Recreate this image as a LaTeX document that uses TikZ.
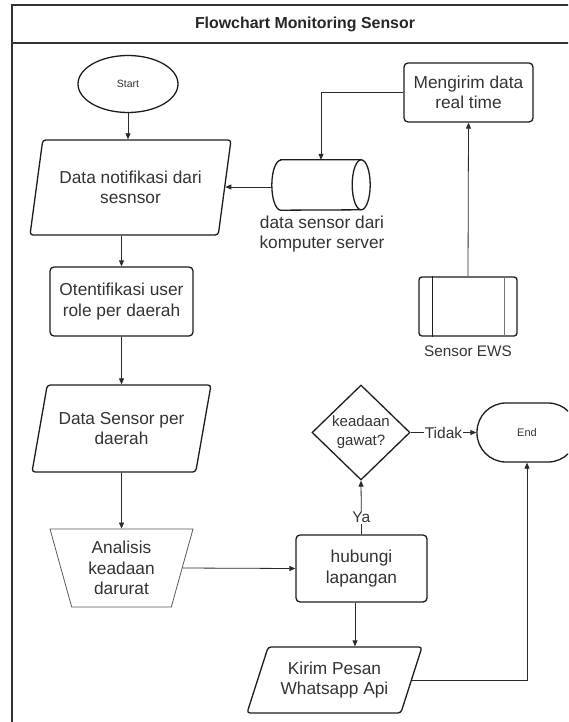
\documentclass[tikz,border=0pt]{standalone}
\usepackage{fontspec}
\setmainfont{Liberation Sans}
\usetikzlibrary{shapes.geometric,arrows.meta,calc}

\definecolor{ink}{HTML}{333333}
\definecolor{edge}{HTML}{1C1C1C}
\definecolor{wire}{HTML}{2A2A2A}

\begin{document}
\begin{tikzpicture}[x=1pt,y=-1pt,
  txt/.style={font=\fontsize{17.3}{20.5}\selectfont, text=ink, align=center},
  base/.style={txt, draw=edge, line width=1.3pt, inner sep=0pt},
  boxnode/.style={base, rectangle, rounded corners=4pt},
  terminal/.style={base, ellipse, font=\fontsize{10.5}{12}\selectfont},
  stadium/.style={base, rectangle, rounded corners=29pt, font=\fontsize{11}{13}\selectfont},
  iodata/.style={base, trapezium, trapezium stretches body=true, rounded corners=3pt},
  manualop/.style={txt, draw=black!65, line width=0.8pt, inner sep=0pt, trapezium,
     trapezium stretches body=true, shape border rotate=180,
     trapezium left angle=68, trapezium right angle=68},
  decision/.style={base, diamond, aspect=1, font=\fontsize{15}{19}\selectfont},
  caption/.style={txt, inner sep=0pt},
  outline/.style={draw=edge, line width=1.3pt},
  conn/.style={draw=wire, line width=0.8pt, -{Triangle[length=6pt,width=5pt]}},
  edgelabel/.style={fill=white, text=ink, inner sep=1pt, font=\fontsize{15.5}{17}\selectfont},
  frame/.style={draw=black!80, line width=1.2pt}
]
\useasboundingbox (0,0) rectangle (568,722);
\clip (0,0) rectangle (568,722);

% outer frame and header band
\draw[frame] (12,740) -- (12,5) -- (580,5);
\draw[frame] (12,43) -- (580,43);
\node[font=\bfseries\fontsize{15.9}{18}\selectfont, text=black!85] (title) at (305,24) {Flowchart Monitoring Sensor};

% main column
\node[terminal, minimum width=100pt, minimum height=57pt] (start) at (128,84) {Start};
\node[iodata, trapezium left angle=69, trapezium right angle=111,
      minimum width=201pt, minimum height=95pt] (notif) at (130.5,187.5)
      {Data notifikasi dari\\sesnsor};
\node[boxnode, minimum width=143pt, minimum height=69pt] (oten) at (121.5,301.5)
      {Otentifikasi user\\role per daerah};
\node[iodata, trapezium left angle=65, trapezium right angle=115,
      minimum width=179pt, minimum height=87pt] (perdaerah) at (121.5,428.5)
      {Data Sensor per\\daerah};
\node[manualop, minimum width=143pt, minimum height=78pt] (analisis) at (121.5,568)
      {Analisis\\keadaan\\darurat};

% server side
\node[boxnode, minimum width=129pt, minimum height=59pt] (kirimrt) at (468.5,92.5)
      {Mengirim data\\real time};
% horizontal storage cylinder (drawn by hand around an empty node)
\node[rectangle, inner sep=0pt, minimum width=98pt, minimum height=50pt] (server) at (321,185) {};
\draw[outline] ([xshift=9pt]server.north west) -- ([xshift=-9pt]server.north east)
   arc[start angle=90, end angle=-90, x radius=9pt, y radius=25pt]
   -- ([xshift=9pt]server.south west)
   arc[start angle=270, end angle=90, x radius=9pt, y radius=25pt] -- cycle;
\draw[outline] ([xshift=-9pt]server.north east)
   arc[start angle=90, end angle=270, x radius=9pt, y radius=25pt];
\node[caption] (serverlbl) at (322,234) {data sensor dari\\komputer server};
\node[base, rectangle, rounded corners=3pt, minimum width=98pt, minimum height=59pt] (ews) at (468,306.5) {};
\draw[edge, line width=1.1pt] ([xshift=14pt]ews.north west) -- ([xshift=14pt]ews.south west);
\draw[black!55, line width=1.1pt] ([xshift=-13pt]ews.north east) -- ([xshift=-13pt]ews.south east);
\node[caption, font=\fontsize{15.3}{18}\selectfont] (ewslbl) at (468,351) {Sensor EWS};

% response part
\node[boxnode, minimum width=131pt, minimum height=67pt] (hubungi) at (361.5,568.5)
      {hubungi\\lapangan};
\node[decision, minimum width=98pt, minimum height=95pt] (gawat) at (361,432.5)
      {keadaan\\gawat?};
\node[stadium, minimum width=100pt, minimum height=59pt] (finish) at (527,432.5) {End};
\node[iodata, trapezium left angle=60, trapezium right angle=120,
      minimum width=175pt, minimum height=66pt] (wa) at (334.5,680)
      {Kirim Pesan\\Whatsapp Api};

% connectors
\draw[conn] (start) -- (start |- notif.north);
\draw[conn] ([yshift=-2pt]server.west) -- ([yshift=-2pt]server.west -| notif.east);
\draw[conn] (kirimrt.west) -| (server.north);
\draw[conn] (ews.north) -- (kirimrt.south);
\draw[conn] (oten.north |- notif.south) -- (oten.north);
\draw[conn] (oten.south) -- (perdaerah.north);
\draw[conn] (perdaerah.south) -- (analisis.north);
\draw[conn] (analisis.east) -- (hubungi.west);
\draw[conn] (hubungi.north) -- node[edgelabel, pos=0.32] {Ya} (gawat.south);
\draw[conn] (gawat.east) -- node[edgelabel] {Tidak} (finish.west);
\draw[conn] ([xshift=-6.5pt]hubungi.south) -- ([xshift=-6.5pt]hubungi.south |- wa.north);
\draw[conn] (wa.east) -| (finish.south);
\end{tikzpicture}
\end{document}
